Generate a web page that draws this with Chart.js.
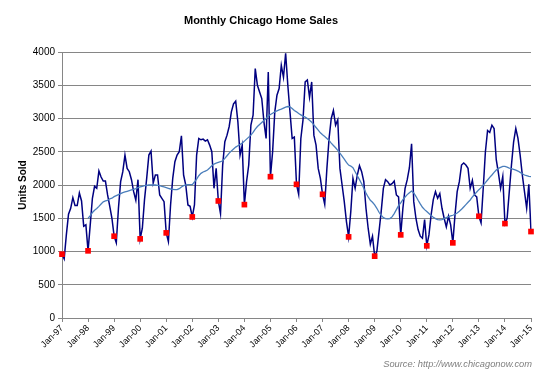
<!DOCTYPE html>
<html>
<head>
<meta charset="utf-8">
<script src="https://cdn.jsdelivr.net/npm/chart.js@4.4.1/dist/chart.umd.min.js"></script>
<style>
  html, body { margin: 0; padding: 0; background: #fff; }
  #wrap { width: 540px; height: 370px; }
</style>
</head>
<body>
<div id="wrap"><canvas id="salesChart" width="540" height="370"></canvas></div>
<script>
// Monthly Chicago home sales, Jan-97 .. Jan-15 (one row per year)
const YEARS = ['97','98','99','00','01','02','03','04','05','06','07','08','09','10','11','12','13','14','15'];
const MONTH_NAMES = ['Jan','Feb','Mar','Apr','May','Jun','Jul','Aug','Sep','Oct','Nov','Dec'];

const sales = [
  960, 890, 1250, 1560, 1650, 1810, 1690, 1690, 1880, 1760, 1380, 1400,
  1010, 1400, 1800, 1980, 1950, 2210, 2120, 2060, 2060, 1850, 1680, 1500,
  1230, 1130, 1650, 2050, 2200, 2450, 2250, 2200, 2080, 1900, 1770, 2080,
  1190, 1350, 1780, 2100, 2450, 2510, 2030, 2150, 2150, 1850, 1800, 1750,
  1280, 1150, 1700, 2100, 2350, 2450, 2500, 2740, 2150, 2000, 1700, 1680,
  1520, 1700, 2450, 2700, 2680, 2690, 2660, 2680, 2600, 2500, 1950, 2250,
  1760, 1570, 2300, 2650, 2750, 2880, 3100, 3220, 3260, 2950, 2450, 2600,
  1705, 2050, 2300, 2900, 3050, 3750, 3500, 3400, 3300, 2950, 2700, 3700,
  2125, 2500, 3100, 3350, 3450, 3800, 3620, 3980, 3500, 3100, 2700, 2720,
  2010, 1860, 2700, 2980, 3550, 3580, 3320, 3550, 2750, 2600, 2250, 2100,
  1860, 1710, 2250, 2700, 3000, 3120, 2900, 2980, 2250, 2000, 1750, 1450,
  1220, 1600, 2100, 1950, 2150, 2290, 2200, 2050, 1650, 1350, 1110, 1230,
  930, 1000, 1300, 1600, 1950, 2080, 2050, 2000, 2020, 2060, 1850, 1820,
  1250, 1650, 1950, 2080, 2260, 2620, 1750, 1500, 1330, 1230, 1200, 1480,
  1085, 1250, 1550, 1780, 1900, 1800, 1870, 1650, 1500, 1370, 1530, 1400,
  1130, 1550, 1900, 2050, 2300, 2330, 2300, 2250, 1950, 2070, 1850, 1820,
  1530, 1430, 1950, 2500, 2820, 2790, 2900, 2850, 2380, 2180, 1950, 2130,
  1420, 1500, 1900, 2300, 2650, 2850, 2700, 2450, 2150, 1900, 1650, 2010,
  1300
];

// 12-month moving average as drawn (blue line), starts Jan-98
const movingAvg = [
  null, null, null, null, null, null, null, null, null, null, null, null,
  1498, 1540, 1586, 1621, 1646, 1679, 1715, 1746, 1761, 1768, 1793, 1802,
  1825, 1840, 1855, 1870, 1885, 1895, 1905, 1915, 1925, 1935, 1945, 1960,
  1970, 1980, 1990, 1995, 2000, 2000, 2000, 2000, 1995, 1990, 1980, 1970,
  1960, 1950, 1940, 1935, 1930, 1930, 1945, 1970, 1990, 2000, 2005, 2005,
  2005, 2045, 2090, 2140, 2175, 2195, 2210, 2225, 2255, 2290, 2315, 2330,
  2340, 2350, 2365, 2400, 2440, 2480, 2510, 2540, 2570, 2590, 2610, 2630,
  2660, 2690, 2720, 2750, 2790, 2840, 2880, 2910, 2940, 2970, 3000, 3040,
  3060, 3080, 3100, 3115, 3130, 3140, 3155, 3170, 3180, 3175, 3150, 3120,
  3100, 3075, 3055, 3035, 3020, 3000, 2975, 2945, 2905, 2865, 2825, 2785,
  2755, 2730, 2700, 2670, 2630, 2595, 2560, 2520, 2480, 2435, 2390, 2340,
  2300, 2285, 2260, 2200, 2140, 2080, 2020, 1950, 1880, 1820, 1770, 1740,
  1700, 1650, 1590, 1545, 1510, 1495, 1490, 1495, 1520, 1570, 1630, 1690,
  1730, 1780, 1820, 1855, 1885, 1910, 1880, 1830, 1770, 1715, 1665, 1630,
  1600, 1570, 1540, 1515, 1495, 1480, 1475, 1480, 1495, 1510, 1525, 1535,
  1545, 1560, 1580, 1605, 1635, 1670, 1705, 1740, 1775, 1820, 1860, 1895,
  1930, 1960, 1995, 2035, 2075, 2115, 2150, 2190, 2225, 2250, 2265, 2280,
  2280, 2270, 2255, 2245, 2235, 2225, 2210, 2190, 2170, 2150, 2140, 2130,
  2125
];

const Y_TICKS = [0, 500, 1000, 1500, 2000, 2500, 3000, 3500, 4000];

// category labels "Jan-97", "Feb-97", ...
const labels = [];
YEARS.forEach(y => MONTH_NAMES.forEach(m => labels.push(m + '-' + y)));
labels.length = sales.length;

// red markers on each January
const januaryMarks = sales.map((v, i) => (i % 12 === 0 ? v : null));

const FONT = "'Liberation Sans', Arial, sans-serif";
const GRID = '#868686';

// titles and source note drawn straight on the canvas
const textPlugin = {
  id: 'chartText',
  afterDraw(chart) {
    const ctx = chart.ctx;
    ctx.save();
    ctx.fillStyle = '#000';
    ctx.textAlign = 'center';
    ctx.textBaseline = 'middle';
    ctx.font = 'bold 11px ' + FONT;
    ctx.fillText('Monthly Chicago Home Sales', 261, 21);

    ctx.save();
    ctx.translate(23, 185);
    ctx.rotate(-Math.PI / 2);
    ctx.font = 'bold 10px ' + FONT;
    ctx.fillText('Units Sold', 0, 0);
    ctx.restore();

    ctx.textAlign = 'right';
    ctx.fillStyle = '#808080';
    ctx.font = 'italic 9.3px ' + FONT;
    ctx.fillText('Source: http://www.chicagonow.com', 532, 364);
    ctx.restore();
  }
};

new Chart(document.getElementById('salesChart'), {
  type: 'line',
  data: {
    labels: labels,
    datasets: [
      { label: 'January', data: januaryMarks, showLine: false, pointStyle: 'rect',
        pointRadius: 4, pointBackgroundColor: '#ff0000', pointBorderWidth: 0, order: 0 },
      { label: '12-month average', data: movingAvg, borderColor: '#4a7ebb', borderWidth: 1.3,
        pointRadius: 0, tension: 0, order: 1 },
      { label: 'Units sold', data: sales, borderColor: '#000080', borderWidth: 1.5,
        pointRadius: 0, tension: 0, order: 2 },
    ]
  },
  options: {
    responsive: false,
    animation: false,
    devicePixelRatio: 1,
    layout: { padding: { top: 52, right: 9, left: 0, bottom: 0 } },
    plugins: { legend: { display: false }, tooltip: { enabled: false }, title: { display: false } },
    scales: {
      x: {
        offset: false,
        grid: { drawOnChartArea: false, drawTicks: true, tickLength: 4, color: GRID },
        border: { display: true, color: GRID },
        ticks: {
          autoSkip: false, maxRotation: 45, minRotation: 45, padding: 1,
          color: '#000', font: { family: FONT, size: 9 },
          callback: (v, i) => (i % 12 === 0 ? labels[i] : null)
        },
        afterFit: s => { s.height = 52; }
      },
      y: {
        min: 0, max: 4000,
        afterBuildTicks: s => { s.ticks = Y_TICKS.map(v => ({ value: v })); },
        grid: { color: GRID, tickLength: 4 },
        border: { display: true, color: GRID },
        ticks: { color: '#000', padding: 3, font: { family: FONT, size: 10 }, callback: v => String(v) },
        afterFit: s => { s.width = 62; }
      }
    }
  },
  plugins: [textPlugin]
});
</script>
</body>
</html>
